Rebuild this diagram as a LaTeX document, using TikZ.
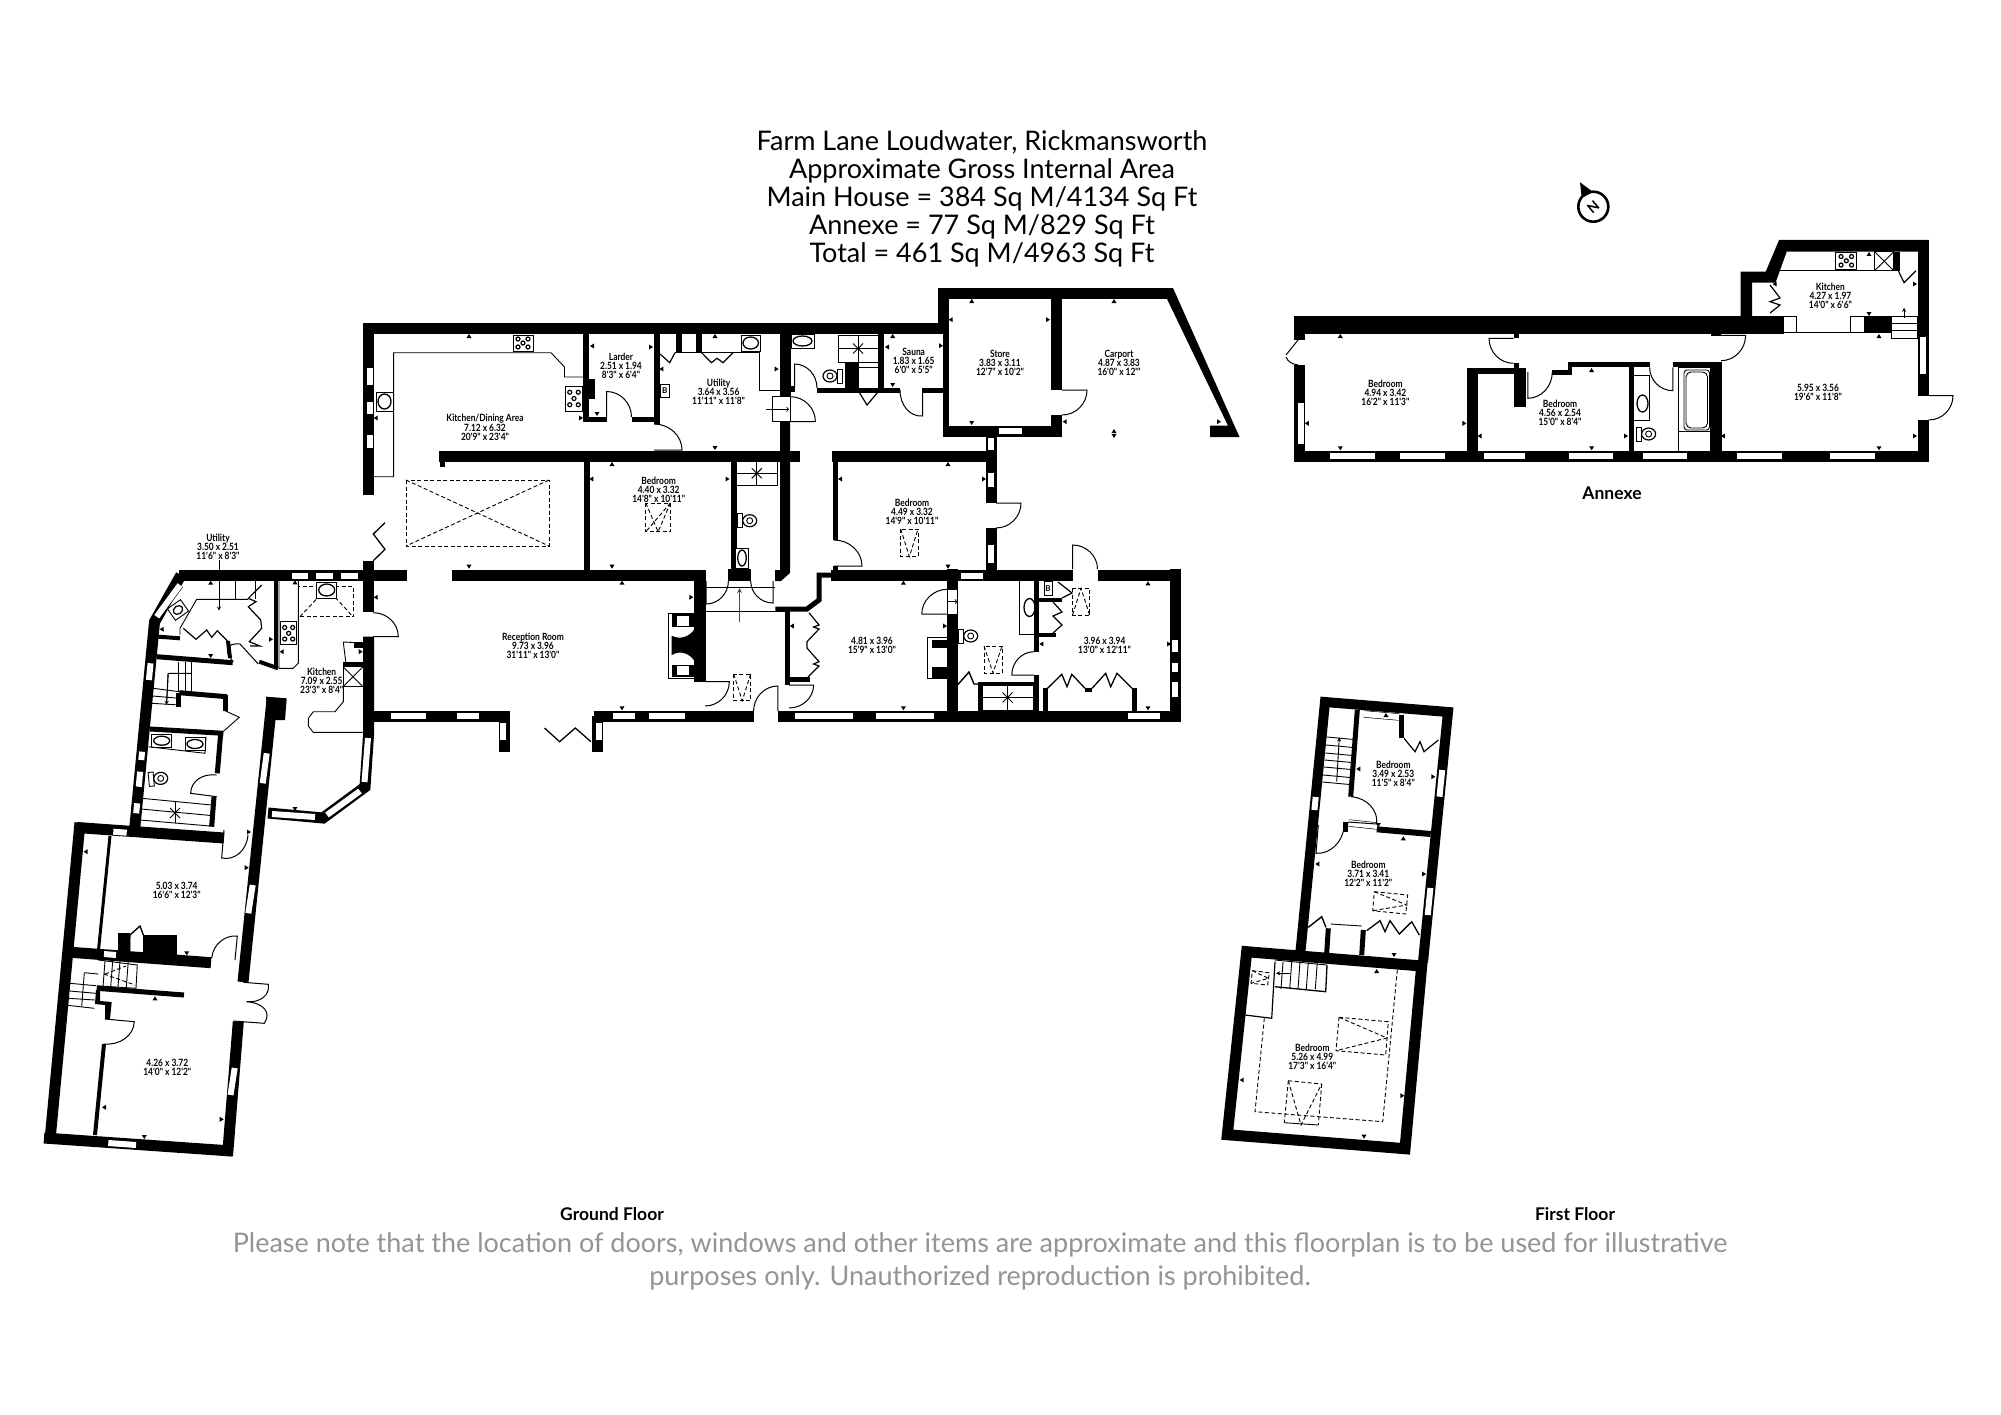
\documentclass[tikz,border=0pt]{standalone}
\usepackage{fontspec}
\newfontfamily\planfont{Lato}
\newfontfamily\labelfont{Lato}[FakeStretch=0.84]
\usetikzlibrary{calc}

\tikzset{
  wall/.style={line width=11pt, line join=miter},
  inwall/.style={line width=5pt, line join=miter},
  thinline/.style={line width=.9pt},
  doorline/.style={line width=1pt},
  dashline/.style={line width=.9pt, dash pattern=on 4pt off 2.5pt},
  winpane/.style={line width=.6pt, double=white, double distance=6pt},
  tickmark/.style={fill=black},
  roomlabel/.style={font=\labelfont\bfseries\fontsize{10}{9}\selectfont, align=center, inner sep=0pt},
  floorlabel/.style={font=\planfont\bfseries\fontsize{17.5}{16}\selectfont, inner sep=0pt},
  titlelabel/.style={font=\planfont\fontsize{27}{28}\selectfont, align=center, inner sep=0pt},
  notelabel/.style={font=\planfont\fontsize{27}{33.5}\selectfont, align=center, inner sep=0pt, text=black!42}
}

% hinge, leaf tip, end of swing
\newcommand{\doorleaf}[3]{\draw[doorline] (#1) -- (#2) .. controls ($(#2)+0.55*(#3)-0.55*(#1)$) and ($(#3)+0.55*(#2)-0.55*(#1)$) .. (#3);}
\newcommand{\hobunit}[4]{\begin{scope}[shift={(#1,#2)}]
  \draw[thinline,fill=white] ({-#3/2},{-#4/2}) rectangle ({#3/2},{#4/2});
  \foreach \i/\j in {-1/-1,1/-1,-1/1,1/1,0/0} \draw[line width=1.2pt] ({\i*#3/4},{\j*#4/4}) circle (2);
\end{scope}}
\newcommand{\basinunit}[4]{\begin{scope}[shift={(#1,#2)}]
  \draw[thinline,fill=white] ({-#3/2},{-#4/2}) rectangle ({#3/2},{#4/2});
  \draw[line width=1.3pt] (0,0) ellipse ({#3/2-2} and {#4/2-2});
\end{scope}}
\newcommand{\toiletunit}[3]{\begin{scope}[shift={(#1,#2)},rotate=#3]
  \draw[thinline,fill=white] (-13,-7) rectangle (-8,7);
  \draw[line width=1.2pt] (-1,0) ellipse (7 and 6);
  \draw[thinline] (-1,0) circle (3);
\end{scope}}
\newcommand{\showerunit}[4]{
  \draw[thinline] (#1,#2) rectangle (#3,#4);
  \draw[thinline] (#1,{(#2+#4)/2}) -- (#3,{(#2+#4)/2});
  \draw[thinline] ({(#1+#3)/2},#2) -- ({(#1+#3)/2},#4);
  \draw[thinline] ({(#1+#3)/2-5},{(#2+#4)/2-5}) -- ({(#1+#3)/2+5},{(#2+#4)/2+5});
  \draw[thinline] ({(#1+#3)/2-5},{(#2+#4)/2+5}) -- ({(#1+#3)/2+5},{(#2+#4)/2-5});
}
\newcommand{\skylightdown}[4]{
  \draw[dashline] (#1,#2) rectangle (#3,#4);
  \draw[dashline] (#1,#2) -- ({(#1+#3)/2},#4) -- (#3,#2);
}

\begin{document}
\begin{tikzpicture}[x=1pt,y=-1pt]
  \path[use as bounding box,fill=white] (0,0) rectangle (2001,1415);

  % north arrow
  \draw[line width=2.6pt] (1593.3,206.7) circle (15);
  \fill (1580,182.3) -- (1581.7,198) -- (1593,192) -- cycle;
  \node[font=\planfont\bfseries\fontsize{14}{14}\selectfont, rotate=40, inner sep=0pt] (northmark) at (1593.3,206.7) {N};

  % titles
  \node[titlelabel] (title) at (982,199) {Farm Lane Loudwater, Rickmansworth\\Approximate Gross Internal Area\\Main House = 384 Sq M/4134 Sq Ft\\Annexe = 77 Sq M/829 Sq Ft\\Total = 461 Sq M/4963 Sq Ft};
  \node[floorlabel] (groundfloor) at (612,1214) {Ground Floor};
  \node[floorlabel] (firstfloor) at (1575,1214) {First Floor};
  \node[floorlabel] (annexe) at (1612,493) {Annexe};
  \node[notelabel] (note) at (980,1261.5) {Please note that the location of doors, windows and other items are approximate and this floorplan is to be used for illustrative\\purposes only. Unauthorized reproduction is prohibited.};

  % ---- ground floor, long range
  \draw[wall] (368.5,495) -- (368.5,328) -- (943,328);
  \draw[wall] (943.5,323) -- (943.5,293.5) -- (1170,293.5);
  \draw[line width=6pt] (946,323) -- (946,437);
  \draw[wall] (943,431) -- (1062,431);
  \draw[wall] (1056.5,293.5) -- (1056.5,390);
  \draw[wall] (1056.5,415) -- (1056.5,436);
  \fill (1173,288) -- (1239.5,437) -- (1210,437) -- (1210,425.7) -- (1228,425.7) -- (1167,299) -- (1160,288) -- cycle;
  \draw[wall] (785,323) -- (785,397);
  \fill (780,422) -- (790,422) -- (790,573) -- (781,581) -- (775,581) -- (775,570) -- (780,570) -- cycle;
  \draw[wall] (439,456.3) -- (800,456.3);
  \draw[inwall] (442,456) -- (442,467);
  \draw[line width=6pt] (586,328) -- (586,421);
  \draw[line width=6pt] (657,328) -- (657,424);
  \draw[line width=5pt] (583,419) -- (606.5,419);
  \draw[line width=5pt] (631.5,419) -- (657,419);
  \fill (588,379) rectangle (595,399);
  \draw[line width=6pt] (881,333) -- (881,392);
  \draw[inwall] (817,390) -- (900,390);
  \draw[inwall] (922.6,390) -- (943,390);
  \fill (844.5,362) rectangle (859,392);
  \fill (790,386) rectangle (794.5,392);
  \draw[line width=6pt] (587,456) -- (587,575);
  \draw[line width=6pt] (733.5,461) -- (733.5,570);
  \draw[wall] (179,575) -- (406.7,575);
  \draw[wall] (451.6,575) -- (706,575);
  \draw[line width=12pt] (700,575) -- (700,682);
  \fill (728.4,569) rectangle (750.7,581);
  \draw[wall] (831,575) -- (1072.5,575);
  \draw[wall] (1097.5,575) -- (1180.7,575);
  \draw[inwall] (835,451) -- (835,540);
  \draw[inwall] (835,566) -- (835,575);
  \draw[wall] (832,456.3) -- (996,456.3);
  \draw[wall] (991,437) -- (991,503);
  \draw[wall] (991,528) -- (991,575);
  \draw[inwall] (831,575) -- (819,575) -- (819,600) -- (807,609) -- (775.4,609);
  \draw[inwall] (787.5,609) -- (787.5,685);
  \draw[inwall] (785,679.5) -- (810,679.5);
  \draw[wall] (374,716) -- (510,716);
  \draw[wall] (504.5,716) -- (504.5,751.7);
  \draw[wall] (593.6,716) -- (753.6,716);
  \draw[wall] (597,716) -- (597,751.7);
  \draw[wall] (777.9,716) -- (1180.7,716);
  \draw[wall] (1175.4,569) -- (1175.4,722);
  \draw[wall] (952.5,569) -- (952.5,589.3);
  \draw[wall] (952.5,614) -- (952.5,722);
  \draw[wall] (368.5,561) -- (368.5,611.7);
  \draw[wall] (368.5,636.7) -- (368.5,735) -- (365,787) -- (323,818) -- (268,813);
  \draw[inwall] (1036.5,581) -- (1036.5,651.7);
  \draw[inwall] (1036.5,675) -- (1036.5,712);
  \draw[line width=4pt] (980,682) -- (980,712);
  \draw[line width=3pt] (978,683) -- (1036,683);
  \draw[line width=4pt] (1034,600) -- (1062,600);
  \draw[line width=4pt] (1039,634.7) -- (1055.6,634.7);
  \fill (1042.9,688.3) rectangle (1047.5,712);
  \fill (1132,688.3) rectangle (1136.8,712);
  \fill (1085,688.3) rectangle (1092,691.7);

  % ---- ground floor, wing
  \draw[wall] (181,575) -- (154.5,622) -- (134,836);
  \fill (266,696.7) -- (286.7,698.3) -- (285,720) -- (268,720) -- cycle;
  \draw[wall] (272,700) -- (243,982);
  \draw[wall] (238.3,1021.7) -- (227.5,1156);
  \draw[wall] (77,827.5) -- (224,838);
  \draw[wall] (80,822.7) -- (50,1140);
  \draw[wall] (44,1138) -- (231.7,1151);
  \draw[wall] (63,951.7) -- (211,962.7);
  \draw[line width=3pt] (110,836) -- (98.5,950);
  \draw[inwall] (96.7,988.3) -- (184,995);
  \fill (96,990) -- (100,990) -- (100,1001) -- (111.7,1002) -- (110,1019) -- (105,1019) -- (105,1005) -- (95,1004) -- cycle;
  \draw[line width=4pt] (104,1044) -- (95,1135);
  \fill (118.3,932.7) rectangle (130,951.7);
  \fill (143.3,935) rectangle (176.7,956.7);
  \draw[line width=4pt] (158.3,636.7) -- (180,638.3);
  \draw[inwall] (156.7,656.7) -- (232.7,662.7);
  \draw[line width=4pt] (228,641) -- (230,658);
  \draw[line width=4pt] (276,581) -- (276,668.3);
  \draw[line width=4pt] (259.3,661.7) -- (278,668.3);
  \draw[inwall] (179.3,692.7) -- (226.7,696.7);
  \draw[inwall] (178,692.7) -- (178,706.7);
  \draw[inwall] (225,695) -- (225,710.7);
  \draw[inwall] (150,729) -- (223.3,733.3);
  \draw[inwall] (220.7,733.3) -- (217.3,773.3);
  \draw[inwall] (214,796.7) -- (211.7,826.7);
  \fill (364,643) rectangle (354,648);
  \draw[line width=4pt] (343,664) -- (363,664);
  \fill (354,642) rectangle (363,646);

  % ---- annexe
  \fill (1294.3,316) rectangle (1783.6,334);
  \fill (1864,316) rectangle (1891.6,332.7);
  \draw[wall] (1299.8,316) -- (1299.8,340);
  \draw[wall] (1299.8,365) -- (1299.8,461.7);
  \draw[wall] (1294.3,456.5) -- (1928.7,456.5);
  \draw[wall] (1923,240) -- (1923,395.7);
  \draw[wall] (1923,420) -- (1923,461.7);
  \fill (1740.7,316) -- (1740.7,271.7) -- (1765.7,271.7) -- (1779,240) -- (1928.7,240) -- (1928.7,251.7) -- (1786.7,251.7) -- (1775.5,282.7) -- (1752,282.7) -- (1752,316) -- cycle;
  \fill (1893.8,251.7) rectangle (1899.6,270.7);
  \fill (1513.5,334) rectangle (1518.8,338.3);
  \fill (1513.5,363) rectangle (1518.8,372);
  \fill (1513.5,368) rectangle (1525.5,407);
  \draw[inwall] (1568,364.8) -- (1649.6,364.8);
  \draw[inwall] (1672.9,364.8) -- (1721,364.8);
  \draw[line width=6pt] (1467.5,371) -- (1518,371);
  \draw[line width=5pt] (1552,372) -- (1572,372);
  \fill (1568,362.3) rectangle (1572,374.5);
  \draw[wall] (1472.6,368) -- (1472.6,452);
  \draw[inwall] (1631.5,364) -- (1631.5,452);
  \draw[wall] (1716,362) -- (1716,452);
  \fill (1710.8,334) rectangle (1721,336);

  % ---- first floor
  \draw[line width=10pt, line join=miter] (1300.5,951) -- (1325,702) -- (1448,712) -- (1423,962);
  \draw[wall] (1246.7,951.7) -- (1421.7,966) -- (1405,1148.7) -- (1227.3,1134.7) -- cycle;
  \draw[line width=6pt] (1376.7,829.3) -- (1430.7,834);
  \draw[line width=5pt] (1345,822) -- (1345,832);
  \draw[line width=5pt] (1357.3,710) -- (1350.7,796.7);
  \draw[line width=5pt] (1401.7,715) -- (1401.7,738.3);
  \draw[line width=5pt] (1328.3,928.3) -- (1326.7,953);
  \draw[line width=5pt] (1363.3,930) -- (1361.7,955);

  % ---- windows
  \foreach \ya/\yb in {368/385, 402/414, 435/448} \draw[winpane] (369.8,\ya) -- (369.8,\yb);
  \foreach \xa/\xb in {391/425.7, 457/479, 613/634.6, 649.4/684.6, 795/853.4, 875.7/933.8, 1127.9/1160} \draw[winpane] (\xa,716) -- (\xb,716);
  \foreach \xa/\xb in {292.3/308.3, 316/333.3, 340.7/358.3} \draw[winpane] (\xa,575.5) -- (\xb,575.5);
  \draw[winpane] (502.7,723) -- (502.7,740);
  \draw[winpane] (598.5,723) -- (598.5,740);
  \draw[winpane] (999,431) -- (1022,431);
  \draw[winpane] (961,575.5) -- (983,575.5);
  \foreach \ya/\yb in {438.3/450, 472.7/486.7, 545/563} \draw[winpane] (990.5,\ya) -- (990.5,\yb);
  \foreach \ya/\yb in {640/651.7, 662.7/671.7, 681.7/696.7} \draw[winpane] (1174.7,\ya) -- (1174.7,\yb);
  \draw[winpane] (368,738) -- (364.5,782);
  \draw[winpane] (360,791) -- (327,815);
  \draw[winpane] (272,814) -- (315,817);
  \draw[winpane] (156.7,616.7) -- (180,585);
  \foreach \ya/\yb in {663.3/680, 751.7/760, 771.7/786.7, 803.3/813.3} \draw[winpane] ({154.5-0.0958*(\ya-622)},\ya) -- ({154.5-0.0958*(\yb-622)},\yb);
  \draw[winpane] (266.7,753.3) -- (262.7,783.3);
  \draw[winpane] (252.7,885) -- (248.3,913.3);
  \draw[winpane] (234.7,1068) -- (230.5,1095);
  \draw[winpane] (108.3,1143) -- (136,1145);
  \draw[winpane] (104,954) -- (116,955);
  \draw[winpane] (113.3,831.7) -- (126.7,832.7);
  \foreach \xa/\xb in {1330/1375, 1399.6/1445, 1484/1524.6, 1568.8/1613, 1642.5/1687, 1736.7/1782, 1830/1874.6} \draw[winpane] (\xa,456) -- (\xb,456);
  \draw[winpane] (1300.5,403) -- (1300.5,444);
  \draw[winpane] (1923,337) -- (1923,374);
  \draw[winpane] (1315.7,797) -- (1314.4,810);
  \draw[winpane] (1442.2,770) -- (1439.5,796.7);
  \draw[winpane] (1430.4,888) -- (1427.7,915);
  \draw[winpane] (1364,714) -- (1399,717);
  \draw[winpane] (1349,823) -- (1377,826);

  % ---- doors
  \doorleaf{606.5,417}{606.5,391.5}{631.5,417}
  \doorleaf{654,450}{682,450}{654,424}
  \doorleaf{790.4,421.7}{815.4,421.7}{790.4,396.7}
  \draw[thinline,fill=white] (772.6,396.7) rectangle (790,421.7);
  \draw[->,thinline] (766,409.3) -- (789,409.3);
  \doorleaf{794.5,388}{794.5,364}{817,388}
  \doorleaf{922.6,388}{922.6,416}{900,390}
  \doorleaf{1062,390}{1087,390}{1062,415}
  \doorleaf{996,503}{1021,503}{996,528}
  \doorleaf{834,566}{862,566}{834,540}
  \doorleaf{706,581}{706,604}{728.4,581}
  \doorleaf{773,581}{773,603}{750.7,581}
  \doorleaf{705,681.7}{729.3,681.7}{705,706}
  \doorleaf{777.9,711}{777.9,686}{753.6,711}
  \doorleaf{789,685}{813.6,685}{789,708}
  \doorleaf{947.5,614}{921.8,614}{947.5,589.3}
  \draw[thinline,fill=white] (947.5,589.3) rectangle (957.5,614);
  \draw[->,thinline] (947.5,601.7) -- (957.5,601.7);
  \doorleaf{1034,675}{1011.8,675}{1034,651.7}
  \doorleaf{1072.5,569}{1072.5,545}{1097.5,569}
  \doorleaf{373.3,636.7}{398.3,636.7}{373.3,612.7}
  \doorleaf{258.3,664}{240,644}{233.3,661.7}
  \doorleaf{216.7,796.7}{190.7,793.3}{216.7,775}
  \doorleaf{224,830}{221.7,858}{248,835}
  \doorleaf{235,960}{237.3,936}{211.7,958}
  \doorleaf{243.3,982.3}{268.3,984.3}{246.7,1001.7}
  \doorleaf{233.3,1021}{264.3,1023.3}{246.7,1001.7}
  \doorleaf{105,1019}{134.3,1021.7}{104,1044}
  \doorleaf{1513.5,338.3}{1489,338.3}{1513.5,363.3}
  \doorleaf{1527.8,372}{1527.8,398.3}{1552.3,372}
  \doorleaf{1672.9,367.3}{1672.9,390.7}{1649.6,367.3}
  \doorleaf{1721,335.3}{1745.6,335.3}{1721,360.7}
  \doorleaf{1928.7,395.7}{1953,395.7}{1928.7,420}
  \doorleaf{1348,822}{1376.7,824}{1351,796.7}
  \doorleaf{1318.3,825}{1316,853.3}{1344,826.7}
  \draw[doorline] (1298,340) -- (1286,355);
  \draw[doorline] (1286,357) .. controls (1288,362) and (1292,364) .. (1298,365);

  % ---- fittings, ground floor
  \draw[thinline] (374,476.7) -- (393.6,476.7) -- (393.6,352.7) -- (551,352.7) -- (564.5,367) -- (564.5,377) -- (583,377);
  \hobunit{523}{343}{20}{16}
  \hobunit{574}{398.5}{17}{25}
  \basinunit{384.5}{401.5}{17}{19}
  \draw[thinline] (675,352.7) -- (759.6,352.7) -- (759.6,390) -- (780,390);
  \fill (675.7,333) rectangle (681.5,352.7);
  \fill (696,333) rectangle (701.6,352.7);
  \draw[line width=1.2pt] (660,354) -- (669.7,362.7) -- (675,352.7);
  \draw[line width=1.2pt] (701.6,352.7) -- (711.4,362.7) -- (717,358.3) -- (723,362.7) -- (733,352.7);
  \basinunit{750.7}{343}{19.5}{16}
  \draw[thinline,fill=white] (660,384) rectangle (669.5,397);
  \node[font=\planfont\bfseries\fontsize{8}{8}\selectfont, inner sep=0pt] (boilermark) at (664.8,390.5) {B};
  \basinunit{802.5}{341}{23}{14}
  \showerunit{838}{335}{878}{362}
  \toiletunit{829}{376}{180}
  \draw[thinline] (859,367) -- (878,367);
  \draw[line width=1.2pt] (859,392) -- (867,405) -- (878,392);
  \showerunit{736}{461.7}{777.5}{485}
  \toiletunit{750.7}{520.7}{0}
  \basinunit{742}{558}{12.5}{20}
  \skylightdown{645.8}{503}{670.4}{531.7}
  \draw[dashline] (670.4,503) -- (645.8,531.7);
  \draw[dashline,line join=miter] (406,480) rectangle (549,546);
  \draw[dashline] (406,480) -- (549,546);
  \draw[dashline] (549,480) -- (406,546);
  \skylightdown{900.7}{529}{918}{556.7}
  \skylightdown{733.7}{674}{750.7}{700.7}
  \skylightdown{984}{646}{1002}{673}
  \draw[dashline] (1072.5,588.3) rectangle (1089.6,615);
  \draw[dashline] (1072.5,615) -- (1081,588.3) -- (1089.6,615);
  \draw[thinline] (706,587.3) -- (775,587.3);
  \draw[thinline] (706,611.7) -- (785,611.7);
  \draw[-stealth,line width=1.2pt,black!70] (739.6,621.7) -- (739.6,588);
  \draw[line width=1.3pt] (373.3,560.7) -- (385,549.3) -- (373.3,534) -- (385,522.7);
  \draw[line width=1.3pt] (544.5,728) -- (559.6,741.7) -- (575.3,728) -- (591,741.7);
  \draw[line width=1.2pt] (809,612.7) -- (819,625) -- (813.6,627) -- (819,629) -- (807,641.7) -- (807,648) -- (819,661.7) -- (813.6,664) -- (819,666) -- (808,677);
  % reception fireplace
  \draw[thinline] (668.3,613.3) rectangle (694,678);
  \fill (671.7,614.3) rectangle (695,626.7);
  \fill[white] (677.3,616) rectangle (689.3,625.7);
  \fill (671.7,665) rectangle (695,677);
  \fill[white] (677.3,666) rectangle (689.3,675);
  \fill (671.7,635.7) .. controls (680,640) and (690,637) .. (695,628) -- (695,662) .. controls (690,653) and (680,650) .. (671.7,655) -- cycle;
  % fireplace of the 4.81 room
  \draw[thinline] (927,637.7) rectangle (947.5,678.3);
  \fill (932,640) rectangle (947.5,648.3);
  \fill (932,666.7) rectangle (947.5,678.3);
  % bathroom beside it
  \draw[thinline] (1019.6,580.7) -- (1019.6,634.3) -- (1034,634.3);
  \draw[line width=1.3pt] (1029.5,607.5) ellipse (5.5 and 9);
  \toiletunit{971.7}{636}{0}
  \draw[line width=1.4pt] (957.5,685) -- (969,672) -- (974,684) -- (978,684);
  \showerunit{982}{685}{1033}{710}
  \draw[thinline,fill=white] (1044,581.7) rectangle (1052,595);
  \node[font=\planfont\bfseries\fontsize{8}{8}\selectfont, inner sep=0pt] (boilertwo) at (1048,588.3) {B};
  \draw[line width=1.2pt] (1058,582) -- (1072,593) -- (1062,598);
  \draw[line width=1.2pt] (1053,602) -- (1062,612) -- (1053,616) -- (1062,625) -- (1053,633);
  \draw[line width=1.3pt] (1047.5,688.3) -- (1061.8,674.3) -- (1067,686.7) -- (1071.8,674.3) -- (1085,688.3);
  \draw[line width=1.3pt] (1092,688.3) -- (1105.7,673.3) -- (1110.7,686.7) -- (1117,673.3) -- (1132,688.3);

  % ---- fittings, wing
  \draw[thinline] (279,581) -- (279,668.3) -- (293.3,668.3) -- (298.3,663.3) -- (298.3,581);
  \hobunit{288.7}{633.3}{16}{23}
  \draw[dashline] (298.3,586) rectangle (353,616.7);
  \draw[dashline] (300,616.7) -- (326.7,588) -- (353,616.7);
  \basinunit{326.7}{590}{20}{16}
  \draw[thinline] (343.3,642) -- (346,664);
  \draw[thinline] (343.3,642) -- (363,643);
  \draw[thinline] (343,666.7) rectangle (363,686.7);
  \draw[thinline] (343,666.7) -- (363,686.7);
  \draw[thinline] (343,686.7) -- (363,666.7);
  \draw[thinline] (343.3,686.7) -- (343.3,701.7) -- (335,711.7) -- (313.3,711.7) -- (308.3,718.3) -- (308.3,726) -- (313.3,732.3) -- (362.7,732.3);
  \draw[thinline] (180,635) -- (180,628.3) -- (196.7,599.3) -- (248.3,599.3);
  \draw[thinline] (235,580.7) -- (235,599.3);
  \draw[thinline] (255,580.7) -- (255,599.3);
  \draw[line width=1.2pt] (261.7,585) -- (248.3,598.3) -- (256,601.7) -- (248.3,606.7) -- (260.7,620) -- (261.7,628.3) -- (249.3,641.7) -- (260,646) -- (250,646);
  \draw[line width=1.2pt] (183.3,628.3) -- (196,639.3) -- (206.7,630) -- (211.7,637.3) -- (217.3,630.7) -- (228.3,641.7);
  \draw[thinline,rotate around={35:(178,610)}] (170,603) rectangle (186,617);
  \draw[line width=1.2pt,rotate around={35:(178,610)}] (178,610) ellipse (5 and 4);
  \draw[-stealth,thinline] (219,560) -- (219,610.7);
  \foreach \xa in {178.3,185,191.7} \draw[thinline] (\xa,661.7) -- (\xa,691.7);
  \draw[thinline] (191.7,673.3) -- (168.3,673.3) -- (166.7,702.7);
  \foreach \ya/\yb/\xa in {688.3/691.7/153.3, 696/698.3/152.7, 703.3/705/151.7} \draw[thinline] (\xa,\ya) -- (179.3,\yb);
  \draw[-stealth,thinline] (168,673.3) -- (166.5,705);
  \draw[thinline] (225,710.7) -- (239.3,717.3) -- (223,731.7);
  \basinunit{161.7}{740.7}{20}{13}
  \basinunit{195}{744}{20}{13}
  \draw[thinline] (148.3,746.7) -- (205,753.3) -- (206,736.7);
  \toiletunit{161.7}{778.3}{5}
  \draw[thinline] (141.7,798.3) -- (211.7,805) -- (210,826) -- (140,820) -- cycle;
  \draw[thinline] (141,809) -- (211,815.5);
  \draw[thinline] (175,801) -- (175,823);
  \draw[thinline] (170,808) -- (180,818);
  \draw[thinline] (180,808) -- (170,818);
  % stairs of the lower rooms
  \draw[thinline] (98.3,960) -- (137.3,965) -- (136,988.3) -- (96.7,985.7);
  \foreach \xa/\xb in {105/103, 112.7/110.7, 120/118, 128.3/126.3} \draw[thinline] (\xa,961) -- (\xb,987);
  \draw[dashline] (104,974) -- (135,985);
  \draw[dashline] (105,974) -- (126,966);
  \draw[thinline] (84.3,972.7) -- (98.3,974);
  \draw[thinline] (84.3,972.7) -- (81.7,1006.7);
  \foreach \xa/\ya/\xb/\yb in {70/983.3/96/985.7, 69.3/991/96/993.3, 68.3/998.3/95/1000, 67.7/1005.3/94.3/1008.3} \draw[thinline] (\xa,\ya) -- (\xb,\yb);
  \draw[line width=1.4pt] (130,951.7) -- (130,935) -- (140,926) -- (143.3,935);
  \fill[white] (130.5,938) -- (140,929) -- (142.8,937) -- (142.8,951) -- (130.5,951) -- cycle;

  % ---- fittings, annexe
  \draw[thinline] (1783.6,316) rectangle (1796.5,332.7);
  \draw[thinline] (1850,316) rectangle (1864,332.7);
  \draw[thinline] (1783,332.7) -- (1864,332.7);
  \draw[thinline] (1775,270.7) -- (1898,270.7);
  \hobunit{1846.3}{260.8}{21}{17}
  \draw[thinline] (1874.6,251.7) rectangle (1893.8,270.7);
  \draw[thinline] (1874.6,251.7) -- (1893.8,270.7);
  \draw[thinline] (1874.6,270.7) -- (1893.8,251.7);
  \draw[line width=1.2pt] (1898.3,270.7) -- (1904,282.7) -- (1916,270.7);
  \draw[line width=1.2pt] (1770,285) -- (1780,298) -- (1770,301.7) -- (1780,305) -- (1770,313);
  \draw[thinline] (1891.6,316) rectangle (1917.5,338);
  \draw[thinline] (1891.6,323.3) -- (1917.5,323.3);
  \draw[thinline] (1891.6,330) -- (1917.5,330);
  \draw[-stealth,thinline] (1904,317.7) -- (1904,307.7);
  \draw[thinline] (1678,367) rectangle (1710,451);
  \draw[thinline] (1678,431.7) -- (1710,431.7);
  \draw[thinline,rounded corners=3pt] (1684,370) rectangle (1709.5,430);
  \draw[thinline,rounded corners=5pt] (1686,372) rectangle (1707.5,428);
  \draw[thinline] (1634,375.7) -- (1649.6,375.7) -- (1649.6,420) -- (1634,420);
  \draw[line width=1.3pt] (1642.5,403.5) ellipse (5.5 and 8.5);
  \toiletunit{1649.6}{434}{0}

  % ---- fittings, first floor
  \foreach \ya in {737,745,753,760,767,775,782} \draw[thinline] ({1327-0.1*(\ya-737)},\ya) -- ({1354-0.1*(\ya-737)},\ya+2.5);
  \draw[-stealth,thinline] (1336.7,781.7) -- (1339.3,737.3);
  \draw[line width=1.2pt] (1404,738.3) -- (1415,751.7) -- (1420,741.7) -- (1424,751.7) -- (1438.3,740);
  \draw[line width=1.4pt] (1308.3,927.3) -- (1321.7,916.7) -- (1326,927.3);
  \draw[thinline] (1330.7,924) -- (1361.7,926);
  \draw[line width=1.3pt] (1366.7,930.7) -- (1380,920.7) -- (1385,931.7) -- (1390,920.7) -- (1399.3,934) -- (1411.7,921.7) -- (1419.3,935);
  \draw[dashline] (1374.3,891.7) -- (1407.7,895) -- (1405.7,914) -- (1372.7,910.7) -- cycle;
  \draw[dashline] (1374.3,891.7) -- (1406.7,905) -- (1372.7,910.7);
  \draw[thinline] (1275,960) -- (1326.7,965);
  \draw[line width=1.3pt] (1275,986.7) -- (1325.7,991.7) -- (1327,965);
  \foreach \xa in {1283,1291.7,1300,1308.3,1317.3} \draw[thinline] (\xa,962) -- (\xa-2,989);
  \draw[-stealth,thinline] (1290,973.3) -- (1276,973.3);
  \draw[line width=1.2pt] (1275,961.7) -- (1271.7,1018.3) -- (1245,1015);
  \draw[dashline] (1252.3,970.7) -- (1269.3,972.7) -- (1267.7,985) -- (1251,983.3) -- cycle;
  \draw[dashline] (1252.3,970.7) -- (1268.3,978.3) -- (1251,983.3);
  \draw[dashline] (1397.3,970) -- (1382.7,1121.7) -- (1255,1111.7) -- (1264.3,1018.3);
  \draw[dashline] (1339,1017.3) -- (1388.3,1021.7) -- (1385.7,1055) -- (1336,1050.7) -- cycle;
  \draw[dashline] (1339,1017.3) -- (1387,1038) -- (1336,1050.7);
  \draw[dashline] (1288.3,1080.7) -- (1321.7,1084);
  \draw[dashline] (1321.7,1084) -- (1318.3,1125);
  \draw[dashline] (1288.3,1080.7) -- (1284.3,1122.7);
  \draw[thinline] (1284.3,1122.7) -- (1318.3,1125);
  \draw[dashline] (1288.3,1080.7) -- (1301,1125) -- (1321.7,1084);

  % ---- small wall marks
  \foreach \x/\y in {469/336,715/336,892.7/336,971.7/301,1114/301,612/464,948/464,622/582.7,903.4/582.7,1148/583.3,210.7/582.7,295/582.3,196/834,155/998.3,1340.3/336,1591.6/370,1879/336,1869/254,1386/715,1403.3/838.3,1376.7/971,1114/431}
    \fill[tickmark,shift={(\x,\y)}] (-2.5,2) -- (2.5,2) -- (0,-2) -- cycle;
  \foreach \x/\y in {612/566.7,469/566.7,622/708.3,948/566.7,903.4/708.3,1148/708.3,210.7/656,295/809,186.7/953.3,144.3/1137,597/414,715/448,892.7/385,971.7/423,1114/436,1340.3/448.3,1591.6/448.3,1879/448.3,1869/314,1378.3/825,1394/955,1364/1136.7}
    \fill[tickmark,shift={(\x,\y)}] (-2.5,-2) -- (2.5,-2) -- (0,2) -- cycle;
  \foreach \x/\y in {592/346,661.4/369,887/347,950.7/319.7,1064.7/421.7,375.7/418,591.3/479,375.7/597.3,840/479,791.8/626,1041.4/644,161.7/629.3,281.7/651.7,85.7/851.7,104/1107.3,1306.8/423.3,1479.5/436,1722.9/436,1774.6/284,1358.3/769,1317.3/864,1241.7/1080}
    \fill[tickmark,shift={(\x,\y)}] (2,-2.5) -- (2,2.5) -- (-2,0) -- cycle;
  \foreach \x/\y in {651/347,776.6/369,941/345.7,1048/319.7,1219/421.7,581/418,727.5/479,691.3/597.3,984/479,945/626,1169/644,271/639.3,360.7/651.7,246.7/867.7,221.7/1119.3,1464.4/423.3,1626/436,1915/436,1915/284,1433.3/776.7,1424/874,1402.3/1095.7,249/832}
    \fill[tickmark,shift={(\x,\y)}] (-2,-2.5) -- (-2,2.5) -- (2,0) -- cycle;

  % ---- room labels
  \node[roomlabel] (kitchendining) at (485,427) {Kitchen/Dining Area\\7.12 x 6.32\\20'9" x 23'4"};
  \node[roomlabel] (larder) at (621,366) {Larder\\2.51 x 1.94\\8'3" x 6'4"};
  \node[roomlabel] (utilitymain) at (718.6,392) {Utility\\3.64 x 3.56\\11'11" x 11'8"};
  \node[roomlabel] (sauna) at (913.7,361) {Sauna\\1.83 x 1.65\\6'0" x 5'5"};
  \node[roomlabel] (store) at (1000,362.7) {Store\\3.83 x 3.11\\12'7" x 10'2"};
  \node[roomlabel] (carport) at (1119,362.7) {Carport\\4.87 x 3.83\\16'0" x 12'"};
  \node[roomlabel] (bedroomone) at (658.7,490) {Bedroom\\4.40 x 3.32\\14'8" x 10'11"};
  \node[roomlabel] (bedroomtwo) at (912,512) {Bedroom\\4.49 x 3.32\\14'9" x 10'11"};
  \node[roomlabel] (reception) at (533,646) {Reception Room\\9.73 x 3.96\\31'11" x 13'0"};
  \node[roomlabel] (roomthree) at (872,645) {4.81 x 3.96\\15'9" x 13'0"};
  \node[roomlabel] (roomfour) at (1104.6,645.5) {3.96 x 3.94\\13'0" x 12'11"};
  \node[roomlabel] (utilitywing) at (218,546.7) {Utility\\3.50 x 2.51\\11'6" x 8'3"};
  \node[roomlabel] (kitchenwing) at (321.7,681) {Kitchen\\7.09 x 2.55\\23'3" x 8'4"};
  \node[roomlabel] (roomfive) at (176.7,890) {5.03 x 3.74\\16'6" x 12'3"};
  \node[roomlabel] (roomsix) at (167.3,1067) {4.26 x 3.72\\14'0" x 12'2"};
  \node[roomlabel] (annexbedone) at (1385.4,393) {Bedroom\\4.94 x 3.42\\16'2" x 11'3"};
  \node[roomlabel] (annexbedtwo) at (1560,413) {Bedroom\\4.56 x 2.54\\15'0" x 8'4"};
  \node[roomlabel] (annexlounge) at (1818,392) {5.95 x 3.56\\19'6" x 11'8"};
  \node[roomlabel] (annexkitchen) at (1830.4,295.7) {Kitchen\\4.27 x 1.97\\14'0" x 6'6"};
  \node[roomlabel] (upperbedone) at (1393.3,774) {Bedroom\\3.49 x 2.53\\11'5" x 8'4"};
  \node[roomlabel] (upperbedtwo) at (1368.3,874) {Bedroom\\3.71 x 3.41\\12'2" x 11'2"};
  \node[roomlabel] (upperbedthree) at (1312.3,1057) {Bedroom\\5.26 x 4.99\\17'3" x 16'4"};
\end{tikzpicture}
\end{document}
